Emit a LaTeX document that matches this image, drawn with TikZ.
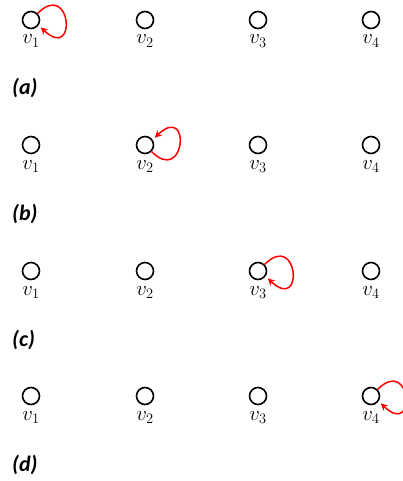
\documentclass[tikz,border=0pt]{standalone}
\usepackage{fontspec}
\newfontfamily\capfont{Carlito}
\usetikzlibrary{arrows.meta}
\tikzset{
  vert/.style={circle, draw=black, line width=1.6pt, minimum size=17pt, inner sep=0pt},
  vlab/.style={anchor=base, inner sep=0pt, font=\fontsize{21}{25}\selectfont},
  caplab/.style={anchor=base west, inner sep=0pt, font=\capfont\bfseries\itshape\fontsize{22}{26}\selectfont},
  selfloop/.style={draw=red, line width=1.5pt, -{Stealth[length=7pt,width=7pt]}, shorten >=3pt}
}
\begin{document}
\begin{tikzpicture}[x=1pt,y=-1pt]
\useasboundingbox (0,0) rectangle (403,481);
\foreach \r/\y/\c in {a/20/a, b/145/b, c/271/c, d/396/d}{
  \foreach \i/\x in {1/31, 2/145, 3/258, 4/371}{
    \node[vert] (\r\i) at (\x,\y) {};
    \node[vlab] (l\r\i) at (\x,\y+24) {$v_{\i}$};
  }
  \node[caplab] (cap\r) at (12,\y+75) {(\c)};
}
% loops
\draw[selfloop] (a1.45) .. controls +(34,-34) and +(39,37) .. (a1.-35);
\draw[selfloop] (b2.-45) .. controls +(34,34) and +(39,-37) .. (b2.35);
\draw[selfloop] (c3.45) .. controls +(34,-34) and +(39,37) .. (c3.-35);
\draw[selfloop] (d4.45) .. controls +(34,-34) and +(39,37) .. (d4.-35);
\end{tikzpicture}
\end{document}
